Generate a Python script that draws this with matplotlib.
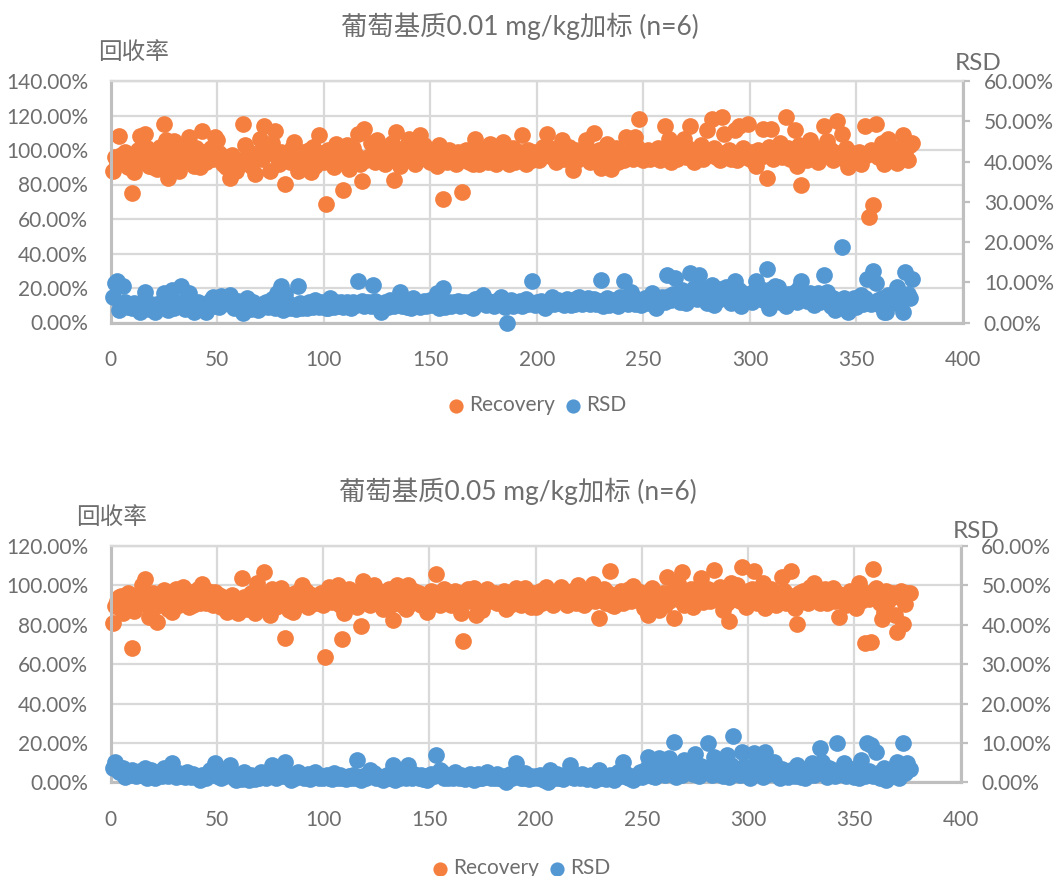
import numpy as np
import matplotlib
matplotlib.use("Agg")
import matplotlib.pyplot as plt
from matplotlib.ticker import FuncFormatter, MultipleLocator

plt.rcParams['font.family'] = ['Lato', 'Noto Sans CJK SC', 'DejaVu Sans']

W, H = 1056, 876
ORANGE = '#F57F3F'
BLUE = '#5398D3'
TEXT = '#6E6E6E'
GRID = '#D9D9D9'
AXIS = '#BFBFBF'

recovery_001 = [
 88,96,92,108,97,94,99,90,95,75,87,96,100,108,93,109,101,91,96,90,
 98,89,102,95,115,105.7,83.5,92,97,105,96,88,100,93,99,102,107.6,94,91,101,
 96,90,111,99,93,97,101,95,107.6,105.7,98,94,92,90,96,84,97,93,88,91,
 94,115,103,96,99,91,93,86,98,106.6,95,114,100,102,88,104,111,96,92,99,
 94,80.5,97,93,101,104.7,96,88,92,99,95,97,100,87.3,102,91,96,108.5,98,93,
 68.5,100,95,98,90,103.7,93,97,76.7,99,103,88.7,95,101,97,109.5,92,82.3,112.4,94,
 96,104,99,93,105.7,101,96,94,92,100,96,104,82.5,110.5,93,91,98,95,103,106.6,
 94,97,92,100,108.5,98,103,95,97,93,96,99,91,102.8,94,71.5,98,93,100,95,
 97,92,99,94,75.8,96,100,93,98,92,106.6,95,92,101,96,99,93,103.7,95,98,
 92,96,100,104.7,94,98,92,96,101,93,97,99,108.5,95,92,100,97,94,99,96,
 94,98,102,97,109.5,101,96,99,93,100,97,105.7,95,98,102,96,88.3,100,94,98,
 97,101,105.7,96,93,99,110,94,100,89.3,97,95,103.7,98,88.7,96,101,93,99,95,
 94,107.6,98,100,95,107.6,102,118,97,94,96,100,95,99,97,96,101,94,98,114,
 99,106.6,93,97,102,95,100,98,106.6,96,101,113.8,97,93,100,96,103,95,98,111.5,
 97,118,101,96,99,94,119,109.5,97,100,95,98,111.5,94,113.8,97,101,96,115.3,95,
 99,93,91,100,96,112.4,98,84,102,112.4,95,100,97,104,96,99,119,101,95,98,
 111.5,91,103,80,97,100,94,106,98,96,101,93,99,96,114,105,97,100,94,96,
 117,98,109.5,95,101,90,94,98,96,93,99,92,96,113.8,97,61.3,100,68,115,96,
 99,104,92,98,106.6,94,100,97,92.5,101,96,108.5,99,94,103,104]

rsd_001 = [
 6.3,9.7,10.2,3.1,4.5,9,5,3.8,4.4,3.6,4.8,4,3.5,2.7,5,7.7,4.2,3.4,4.6,3.9,
 2.7,4.5,3.8,5,7.3,4.2,3.2,5.5,8.1,3.6,4.8,4.1,9,5.2,3.3,6,7.4,4.5,2.7,4,
 5,3.5,4.6,3.8,2.7,4.4,5.5,6.4,4.1,5.8,3.9,6.5,4.7,5.2,6.1,6.9,5,3.6,4.4,5.3,
 3.9,2.3,4.8,6,4.1,3.4,5.2,4,3.2,3.6,4.7,4.2,5,3.8,4.5,5.8,3.5,7.3,6,9,
 3.1,7,5,3.6,4.4,4,3.4,9,4.9,3.7,4.2,3.5,5,4.3,3.9,5.6,4.5,3.8,5,4.2,
 3.7,3.6,6,4.4,3.9,5,4.2,5.2,3.8,4.5,5.1,3.9,3.6,5.2,4.4,10.2,4.7,5.3,4,4.8,
 5.1,4.2,9.3,5.4,4.4,3.9,2.7,4.6,5,3.9,5.5,4.3,4,5.6,4.8,7.7,4.1,5.2,3.9,4.7,
 3.6,6,4.4,5,3.9,4.6,5.3,4.1,4.8,5.5,4.3,5,7.3,3.6,5.5,8.5,3.8,4.7,5.1,4.2,
 5,4.5,5.3,4.1,4.8,5.2,4.4,5,3.9,3.6,5.8,4.5,6.2,5.1,6.9,4.3,5.4,4.7,5,4.2,
 4.9,5.5,6.4,4.3,3.9,0,4.7,5.6,4.2,5,4.6,5.4,4.1,5,5.8,4.5,5.2,10.2,4.3,5,
 4.6,5.4,4.2,3.6,5,5.6,6.4,4.5,5.1,5.7,4.8,5.4,4.4,5.9,5,4.3,5.5,4.7,6,6.4,
 4.6,5.5,5,6.1,4.5,5.2,5.8,4.7,5.3,10.6,4,5.5,6.2,4.4,5,5.7,4.9,4,6.3,5.2,
 10.2,5.6,4.6,7.7,5.3,4.7,5.9,5,4.4,5.4,6.1,4.8,5.5,7.3,4.5,3.6,5.2,5.9,6.3,5,
 11.7,6.7,5.5,7.2,11,6,5.2,8,7.5,4.8,6.6,12.2,7,8.5,5.9,11.8,7.2,6.3,8.3,4.8,
 6.8,9.3,4.4,7.5,5.6,8.2,6.5,7,8.9,5.5,4.8,7.8,10.2,6.3,8,4,7.4,5.8,6.6,7,
 5,7.9,10.4,6.2,8.4,5.6,7.3,13.2,3.6,8.3,6.1,9,8.9,5.2,7,6,4,7.2,5.9,6.5,
 7.7,5.1,8.5,10.4,6,6.9,5.3,7.4,5.8,4.4,6.4,7.3,5,6.6,11.7,7.7,5.5,4,6.2,3.1,
 5.4,4.7,18.8,6,4.2,2.7,5.7,4.6,6.2,3.8,5.5,6.9,4.5,6,10.7,5.2,4.5,12.9,9.9,5.6,
 4.4,6.1,2.7,2.7,6.9,4.8,5.5,6.5,8.9,4.5,5.8,2.7,12.6,7.2,6,10.7]

recovery_005 = [
 80.7,89.7,92,94,94.6,86,91,96,88,68.4,87,92,95,96,100,103,90,84,93,96,
 89,81.6,94,91,97.7,93,88,96,86.7,92,98,90,95,99.4,93,97,89,94,90,96,
 98,91,100.7,95,91,97,93,90,96.8,92,95,89,94,91,86.7,92,95,88,93,86,
 90,103.6,94,88,91,96,89,86,101,92,96,107,90,94,85,98,93,89,96,98.5,
 91,73.5,95,87.5,93,86.7,96,90,94,100,92,97,89,90,95,93,91,92.6,96,90,
 63.5,94,99.4,91.7,96,93,100,90,72.8,86,95,98,92,91,96,89,97,79.4,102,93,
 96,90,93.4,100,94,97,91,88,95,92,98,90,82.4,96,100,93,90,95,88,100,
 94,91,97,93,96,90,95,92,86.7,94,97,91,106,96,90,95,98,92,96,90,
 94,97,92,96,86,71.6,94,98,92,95,98.5,85,93,96,87.5,94,98,92,95,93,
 96,91,95,93,97,88,94,90,96,92,98.5,94,90,97,98.5,91,95,89,96,89,
 93,97,91,95,99.4,92,96,90,94,97,92.6,99,93,95,90,92.6,97,94,91,100,
 93,96,90,91.7,97,94,100.7,92,96,83.3,94,98,91,96,107.3,90,89.7,95,93,97,
 91,95,93.4,98,92,99.7,94,97,92,96,88.4,94,85,97,98.5,91,95,87.5,94,96,
 90,104.4,92,97,83.3,94,101,92.6,106.6,90,96,93,98,89,95,92,99,103.6,91.7,95,
 98,92,96,107.8,93,96.8,99,87.5,95,91,82,101,96,93,100,92,109.5,95,89,97,
 94,98,107.3,91,96,93,101,88.4,95,92,98,94,90,96,93,104.4,97,91,95,107.3,
 93,88.4,80.2,96,92,97,94,91,99,95,101,93,97,91,95,98,91,94,97,98.5,
 92,96,84,93,95,90,91,97,93,95,88.4,101,92,94,70.6,96,93,71,108.3,98.5,
 94,91,82.8,86.7,97,92,95,96,85,76.5,94,97,80.2,90.6,96.3,96]

rsd_005 = [
 3.6,5.2,4.2,2.5,3.2,3.6,1.4,2.6,1.8,3,2.2,1.6,2.4,2.8,1.9,3.6,1,2.3,3.1,2,
 1,1.9,2.6,1.7,3.6,2.2,1.5,2.8,4.8,2,1.4,2.4,1.7,2.1,1.3,2.5,1.9,1.4,2.2,1.6,
 1.2,.6,1.9,1.4,1.1,2.3,3,2.4,4.8,1.5,2.6,1.2,2,1.7,3,4.4,1.6,1,.6,1.8,
 1.3,.8,2.7,1.5,.6,1.9,1.1,.9,1.6,1.2,2.7,1.4,1,1.8,2.3,4.4,1.5,1,2.9,3.3,
 1.6,5.2,2.4,1.3,.6,1.9,1.1,2.7,1.5,1.9,1,1.3,2.1,.9,1.7,2.7,2,1.2,1.6,1,
 1.4,1.9,1.1,.9,2.3,1.5,1.1,1.8,1,1.4,.8,1.6,1.2,1.9,1,5.7,1.3,.6,1.7,1.1,
 2,3.1,1.5,2.4,1.2,1.7,1,.6,1.4,1.8,1,2.2,4.4,.6,1.6,1.1,1.9,2.6,1,4.4,
 1.7,1,2.1,1.4,1.1,1.8,.9,1.5,.6,1.2,2,1.6,6.9,2.3,3.1,2.7,1.2,1.8,1,1.4,
 1.1,2.7,1.6,1,1.9,1.2,.8,1.5,2,1.1,.6,1.7,2.2,1.2,1,1.3,2.7,1.8,1,1.5,
 1.2,2,1.1,.8,1.7,0,1.3,2.1,1,1.6,4.8,1.9,1.2,1,2.3,1.4,.9,1.7,1.1,1.5,
 1,1.8,1.3,.7,1.9,.2,3.1,1.4,1,2,1.2,1.7,.9,1.5,2.2,4.4,1.3,1,1.9,1.4,
 1.1,2,1.6,.8,1.3,1.9,1,.6,1.4,3.1,1.1,1.7,.8,1,1.9,1.3,.7,2,2.6,1.5,
 5.2,2.4,1.4,1,1.7,.6,1.2,1.9,2.5,1.3,2.8,3.5,6.5,2.1,1.6,1.4,3.2,6.1,2.5,4,
 1.8,3.5,6.1,2.9,10.3,1.4,3.3,4.2,1.8,5.7,2.6,3.6,4.7,2,7.2,3.1,1.7,4.1,3.6,2.5,
 10,3.3,1.9,6.5,3.7,2.2,4.6,1.7,3,6.9,1.4,4.3,11.8,2.6,3.5,1.9,7.8,4.2,1.8,3,
 1,3.9,7.5,2.4,4.6,3.2,1.4,7.8,3.3,2,4.8,5.2,2.2,1.6,1,3.5,2.4,1.7,1.4,3.1,
 2.2,1.6,4.4,2.9,1.3,3,1,2.4,3.7,4.8,1.8,3.2,2.5,8.6,5.2,2.6,1.4,3.6,2,3,
 1.5,10,2.8,3.4,4.8,1.6,2.9,1.9,3.3,1.4,2.4,1,5.7,2.2,1.6,10,2.8,9.5,1.5,7.6,
 2.4,1.2,2.8,3.6,.6,2.1,3.2,1.6,2.7,5.2,1,3.1,10,2.3,4.8,3.4]

titles = ['葡萄基质0.01 mg/kg加标 (n=6)', '葡萄基质0.05 mg/kg加标 (n=6)']
series_names = ['Recovery', 'RSD']
left_label = '回收率'
right_label = 'RSD'

fig = plt.figure(figsize=(W / 100, H / 100), dpi=100, facecolor='white')


def px_text(x, y, s, size, **kw):
    fig.text(x / W, 1 - y / H, s, fontsize=size, color=TEXT, ha='center', va='center', **kw)


def make_panel(box, rec, rsd, ymax, ystep, title, title_xy, left_xy, right_xy):
    l, t, r, b = box
    ax = fig.add_axes([l / W, 1 - b / H, (r - l) / W, (b - t) / H])
    ax2 = ax.twinx()
    x = np.arange(1, len(rec) + 1)
    ax.set_xlim(0, 400)
    ax.set_ylim(0, ymax)
    ax2.set_ylim(0, 60)
    ax.xaxis.set_major_locator(MultipleLocator(50))
    ax.yaxis.set_major_locator(MultipleLocator(ystep))
    ax2.yaxis.set_major_locator(MultipleLocator(10))
    fmt = FuncFormatter(lambda v, _: f'{v:.2f}%')
    ax.yaxis.set_major_formatter(fmt)
    ax2.yaxis.set_major_formatter(fmt)
    ax.grid(True, color=GRID, lw=1.6, zorder=0)
    ax.set_axisbelow(True)
    s1 = ax.scatter(x, rec, s=145, color=ORANGE, lw=0, zorder=3, clip_on=False, label=series_names[0])
    s2 = ax2.scatter(x, rsd, s=145, color=BLUE, lw=0, zorder=3, clip_on=False, label=series_names[1])
    for a in (ax, ax2):
        for side, sp in a.spines.items():
            sp.set_color(GRID if side == 'top' else AXIS)
            sp.set_linewidth(1.6 if side == 'top' else 2.2)
    ax.tick_params(axis='y', length=0, pad=16, labelsize=15, labelcolor=TEXT)
    ax.tick_params(axis='x', length=0, pad=20, labelsize=15, labelcolor=TEXT)
    ax2.tick_params(axis='y', length=5, width=1.6, color=AXIS, pad=10, labelsize=15, labelcolor=TEXT)
    px_text(*title_xy, title, 19)
    px_text(*left_xy, left_label, 17)
    px_text(*right_xy, right_label, 17.5)
    return s1, s2


h1 = make_panel((110.5, 81, 963, 322.5), recovery_001, rsd_001, 140, 20, titles[0],
                (520, 26), (133, 52.5), (978, 63))
h2 = make_panel((110.5, 546, 960.5, 782.3), recovery_005, rsd_005, 120, 20, titles[1],
                (518, 491), (111, 517), (976, 531))

for handles, cx, cy in ((h1, 535, 405), (h2, 519, 868)):
    fig.legend(handles, series_names, loc='center', bbox_to_anchor=(cx / W, 1 - cy / H), ncol=2,
               frameon=False, fontsize=15, labelcolor=TEXT, markerscale=0.85, handletextpad=0.0,
               columnspacing=0.3, handlelength=1.2, borderpad=0)

fig.savefig('out.png', dpi=100)
